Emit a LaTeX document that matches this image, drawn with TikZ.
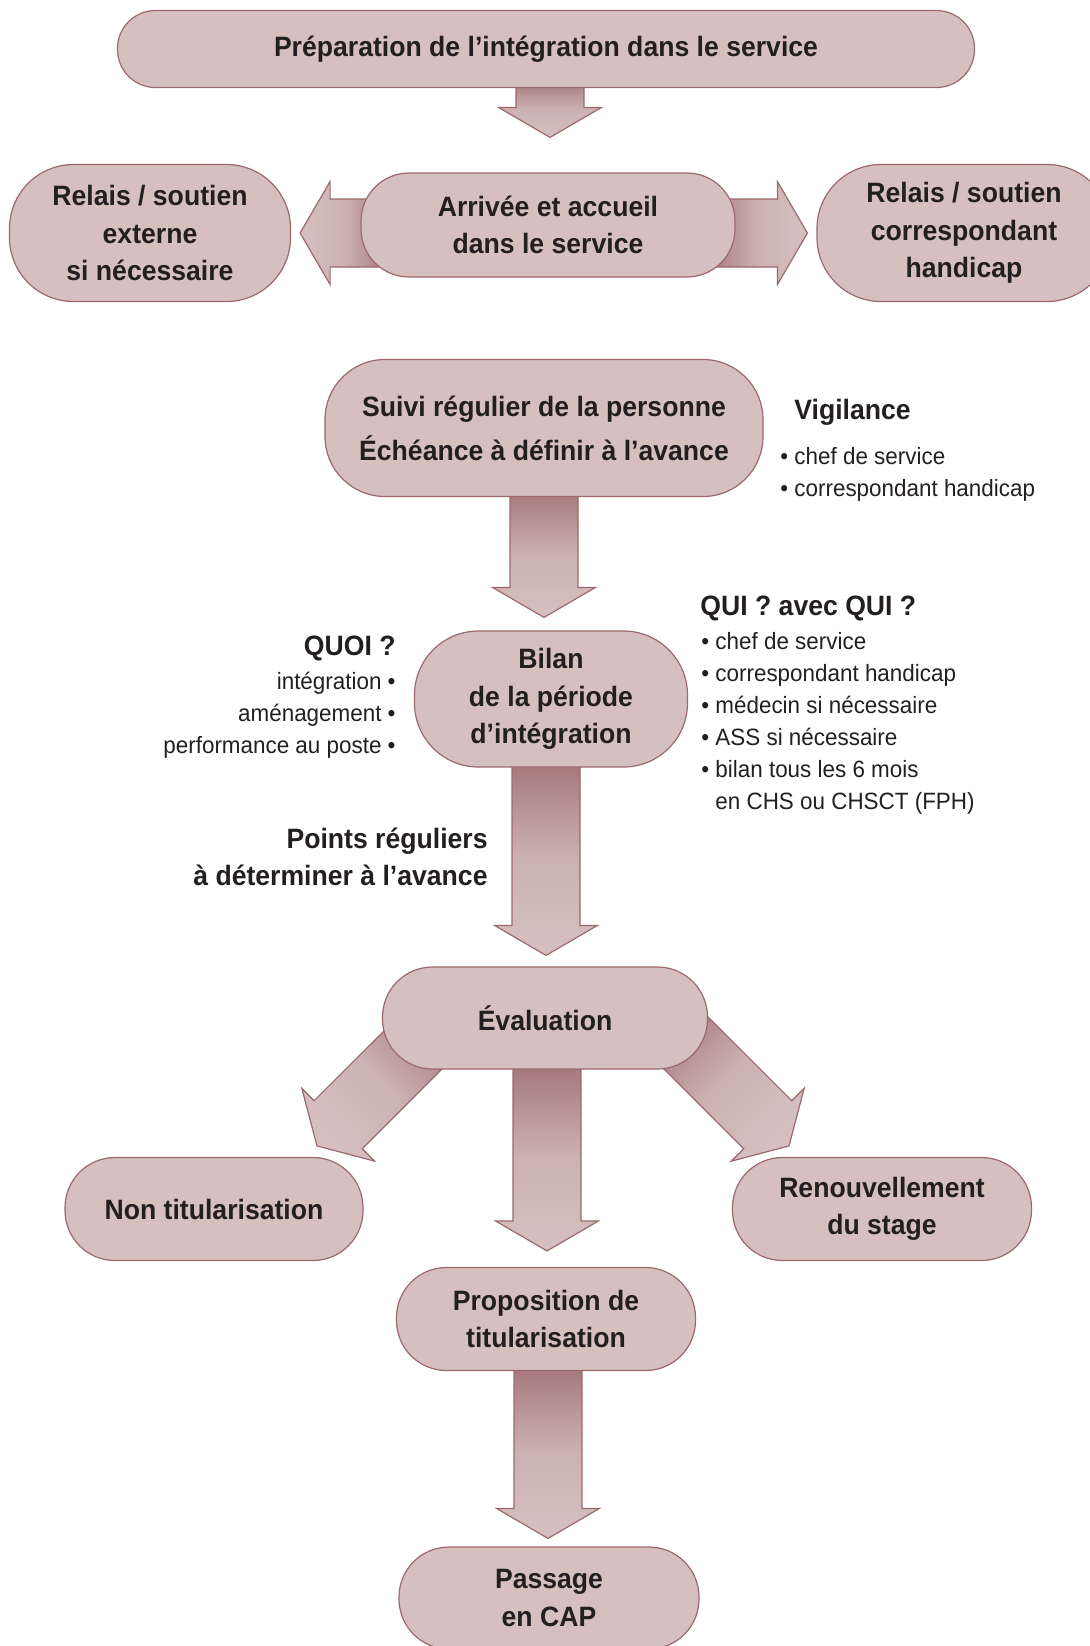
\documentclass[tikz,border=0pt]{standalone}
\usepackage{fontspec}
\setmainfont{Liberation Sans}[FakeStretch=0.95]
\usetikzlibrary{calc,backgrounds}
\definecolor{boxfill}{RGB}{214,192,191}
\definecolor{boxline}{RGB}{155,105,108}
\definecolor{arrowdark}{RGB}{165,118,121}
\definecolor{inkgrey}{RGB}{35,31,32}

% block arrow: #1 base, #2 tip, #3 shading angle
\newcommand{\blockarrow}[3]{%
  \coordinate (bh) at ($(#2)!15pt!(#1)$);
  \draw[arrowbody, top color=arrowdark, bottom color=boxfill, middle color=boxfill!80!arrowdark, shading angle=#3]
    ($(#1)!17pt!90:(#2)$) -- ($(bh)!17pt!90:(#2)$) -- ($(bh)!25.75pt!90:(#2)$) -- (#2)
    -- ($(bh)!25.75pt!-90:(#2)$) -- ($(bh)!17pt!-90:(#2)$) -- ($(#1)!17pt!-90:(#2)$) -- cycle;
}

\tikzset{
  box/.style={draw=boxline, fill=boxfill, line width=0.6pt, text=inkgrey, align=center,
    font=\fontsize{14}{18.8}\selectfont\bfseries, inner sep=0pt},
  note/.style={text=inkgrey, align=left, inner sep=0pt, font=\fontsize{11.8}{16}\selectfont},
  notehead/.style={text=inkgrey, inner sep=0pt, font=\fontsize{14}{18.8}\selectfont\bfseries},
  arrowbody/.style={draw=boxline, line width=0.6pt, line join=miter},
}

\begin{document}
\begin{tikzpicture}[x=0.5pt,y=-0.5pt]
\useasboundingbox (0,0) rectangle (1090,1646);

% boxes
\node[box, minimum width=428.5pt, minimum height=38.5pt, rounded corners=19pt] (prep) at (546,49) {Préparation de l’intégration dans le service};
\node[box, minimum width=187pt, minimum height=52pt, rounded corners=24pt] (arrivee) at (548,225) {Arrivée et accueil\\dans le service};
\node[box, minimum width=140.5pt, minimum height=68.5pt, rounded corners=32pt] (relaisext) at (150,233) {Relais / soutien\\externe\\si nécessaire};
\node[box, minimum width=147pt, minimum height=68.5pt, rounded corners=32pt] (relaiscorr) at (964,233) {Relais / soutien\\correspondant\\handicap};
\node[box, minimum width=219pt, minimum height=68.5pt, rounded corners=30pt,
  font=\fontsize{14}{22}\selectfont\bfseries] (suivi) at (544,428) {Suivi régulier de la personne\\Échéance à définir à l’avance};
\node[box, minimum width=136.5pt, minimum height=68pt, rounded corners=32pt] (bilan) at (551,699) {Bilan\\de la période\\d’intégration};
\node[box, minimum width=162.5pt, minimum height=51pt, rounded corners=25pt] (eval) at (545,1018) {Évaluation};
\node[box, minimum width=149pt, minimum height=51.5pt, rounded corners=25pt] (nontit) at (214,1209) {Non titularisation};
\node[box, minimum width=149.5pt, minimum height=51.5pt, rounded corners=25pt] (renouv) at (882,1209) {Renouvellement\\du stage};
\node[box, minimum width=149.5pt, minimum height=51.5pt, rounded corners=25pt] (propo) at (546,1319) {Proposition de\\titularisation};
\node[box, minimum width=150pt, minimum height=51pt, rounded corners=25pt] (passage) at (549,1598) {Passage\\en CAP};

% side notes
\node[notehead, anchor=west] (vigil) at (794,412) {Vigilance};
\node[note, anchor=west] (vigillist) at (780,474) {• chef de service\\• correspondant handicap};
\node[notehead, anchor=east] (quoi) at (396,648) {QUOI ?};
\node[note, anchor=east, align=right] (quoilist) at (396,715) {intégration •\\aménagement •\\performance au poste •};
\node[notehead, anchor=west] (qui) at (700,608) {QUI ? avec QUI ?};
\node[note, anchor=west] (quilist) at (701,723) {• chef de service\\• correspondant handicap\\• médecin si nécessaire\\• ASS si nécessaire\\• bilan tous les 6 mois\\\hphantom{• }en CHS ou CHSCT (FPH)};
\node[notehead, anchor=east, align=right] (points) at (488,857) {Points réguliers\\à déterminer à l’avance};

% arrows
\begin{scope}[on background layer]
  \blockarrow{$(prep.south)+(4,-8)$}{$(arrivee.north)+(2,-35)$}{0}
  \blockarrow{$(arrivee.west)+(30,8)$}{$(relaisext.east)+(9,0)$}{-90}
  \blockarrow{$(arrivee.east)+(-30,8)$}{$(relaiscorr.west)+(-9,0)$}{90}
  \blockarrow{$(suivi.south)+(0,-7)$}{$(bilan.north)+(-7,-13)$}{0}
  \blockarrow{$(bilan.south)+(-5,-7)$}{$(eval.north)+(1,-11)$}{0}
  \blockarrow{$(eval.south)+(2,-7)$}{$(propo.north)+(1,-16)$}{0}
  \blockarrow{$(eval)+(-105,5)$}{$(nontit.north)+(103,-11)$}{-45}
  \blockarrow{$(eval)+(121,5)$}{$(renouv.north)+(-93,-11)$}{45}
  \blockarrow{$(propo.south)+(2,-7)$}{$(passage.north)+(-1,-8)$}{0}
\end{scope}
\end{tikzpicture}
\end{document}
